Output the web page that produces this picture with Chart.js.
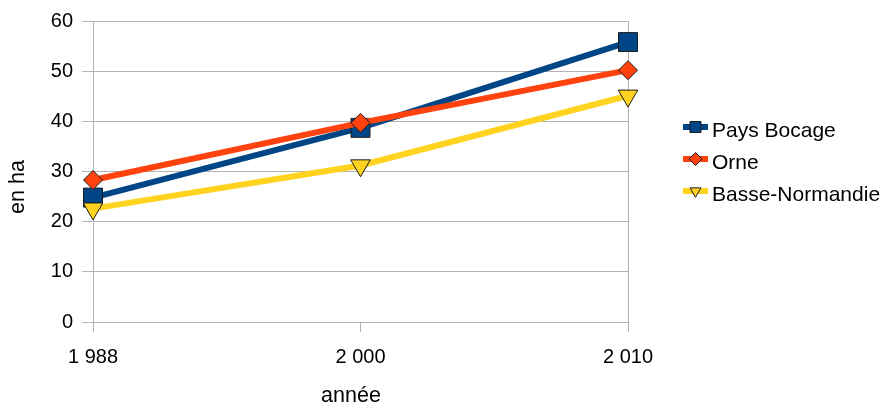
<!DOCTYPE html>
<html lang="fr">
<head>
    <meta charset="UTF-8">
    <title>Surface moyenne des exploitations</title>
    <script src="https://cdn.jsdelivr.net/npm/chart.js"></script>
    <style>
        body {
            margin: 0;
            background: #ffffff;
        }
        #wrap {
            width: 887px;
            height: 410px;
        }
    </style>
</head>
<body>
    <div id="wrap"><canvas id="surfaceChart" width="887" height="410"></canvas></div>

    <script>
        // Données
        const annees = ['1 988', '2 000', '2 010'];
        const paysBocage = [24.8, 38.7, 55.8];
        const orne = [28.3, 39.7, 50.2];
        const basseNormandie = [22.6, 31.2, 45.1];
        const yTicks = [0, 10, 20, 30, 40, 50, 60];

        const GRID = '#b3b3b3';
        const FAMILY = '"Liberation Sans", Arial, sans-serif';
        const TICK_FONT = { family: FAMILY, size: 20 };

        // Titres des axes et legende a droite (trait + symbole)
        const habillage = {
            id: 'habillage',
            afterDraw(chart) {
                const ctx = chart.ctx;
                ctx.save();
                ctx.fillStyle = '#000';
                ctx.font = '21.5px ' + FAMILY;
                ctx.textAlign = 'center';
                ctx.textBaseline = 'middle';
                ctx.fillText('année', 351, 396);
                ctx.translate(18, 187);
                ctx.rotate(-Math.PI / 2);
                ctx.fillText('en ha', 0, 0);
                ctx.restore();

                const x0 = 683, x1 = 708, yStart = 127, step = 32;
                const tailles = [7.8, 6.5, 6.3];
                chart.data.datasets.forEach((ds, i) => {
                    const y = yStart + i * step;
                    ctx.save();
                    ctx.strokeStyle = ds.borderColor;
                    ctx.lineWidth = 6;
                    ctx.beginPath();
                    ctx.moveTo(x0, y);
                    ctx.lineTo(x1, y);
                    ctx.stroke();
                    ctx.fillStyle = ds.pointBackgroundColor;
                    ctx.strokeStyle = ds.pointBorderColor;
                    ctx.lineWidth = 1;
                    Chart.helpers.drawPoint(ctx, {
                        pointStyle: ds.pointStyle,
                        rotation: ds.pointRotation || 0,
                        radius: tailles[i],
                        borderWidth: 1
                    }, (x0 + x1) / 2, y);
                    ctx.fillStyle = '#000';
                    ctx.font = '21px ' + FAMILY;
                    ctx.textBaseline = 'middle';
                    ctx.textAlign = 'left';
                    ctx.fillText(ds.label, 712, y + 4);
                    ctx.restore();
                });
            }
        };

        const chart = new Chart(document.getElementById('surfaceChart'), {
            type: 'line',
            data: {
                labels: annees,
                datasets: [
                    {
                        label: 'Pays Bocage',
                        data: paysBocage,
                        borderColor: '#004586',
                        borderWidth: 6,
                        pointStyle: 'rect',
                        pointRadius: 13.4,
                        pointBackgroundColor: '#004586',
                        pointBorderColor: '#1c1c1c',
                        pointBorderWidth: 1,
                        order: 3
                    },
                    {
                        label: 'Orne',
                        data: orne,
                        borderColor: '#ff420e',
                        borderWidth: 6,
                        pointStyle: 'rectRot',
                        pointRadius: 9.5,
                        pointBackgroundColor: '#ff420e',
                        pointBorderColor: '#1c1c1c',
                        pointBorderWidth: 1,
                        order: 2
                    },
                    {
                        label: 'Basse-Normandie',
                        data: basseNormandie,
                        borderColor: '#ffd320',
                        borderWidth: 6,
                        pointStyle: 'triangle',
                        pointRotation: 180,
                        pointRadius: 11.3,
                        pointBackgroundColor: '#ffd320',
                        pointBorderColor: '#1c1c1c',
                        pointBorderWidth: 1,
                        order: 1
                    }
                ]
            },
            options: {
                responsive: false,
                animation: false,
                layout: { padding: { left: 0, right: 259, top: 19, bottom: 0 } },
                plugins: {
                    legend: { display: false },
                    tooltip: { enabled: false }
                },
                scales: {
                    x: {
                        offset: false,
                        border: { display: true, color: GRID, width: 1 },
                        grid: {
                            color: (c) => c.index === 2 ? GRID : 'rgba(0,0,0,0)',
                            tickColor: GRID,
                            tickLength: 10,
                            lineWidth: 1
                        },
                        ticks: { color: '#000', font: TICK_FONT, padding: 13, maxRotation: 0 },
                        afterFit(scale) { scale.height = 88; }
                    },
                    y: {
                        min: 0,
                        max: 60,
                        afterBuildTicks(scale) {
                            scale.ticks = yTicks.map(v => ({ value: v }));
                        },
                        border: { display: true, color: GRID, width: 1 },
                        grid: { color: GRID, tickColor: GRID, tickLength: 11, lineWidth: 1 },
                        ticks: { color: '#000', font: TICK_FONT, padding: 9 },
                        afterFit(scale) { scale.width = 93; }
                    }
                }
            },
            plugins: [habillage]
        });
    </script>
</body>
</html>
